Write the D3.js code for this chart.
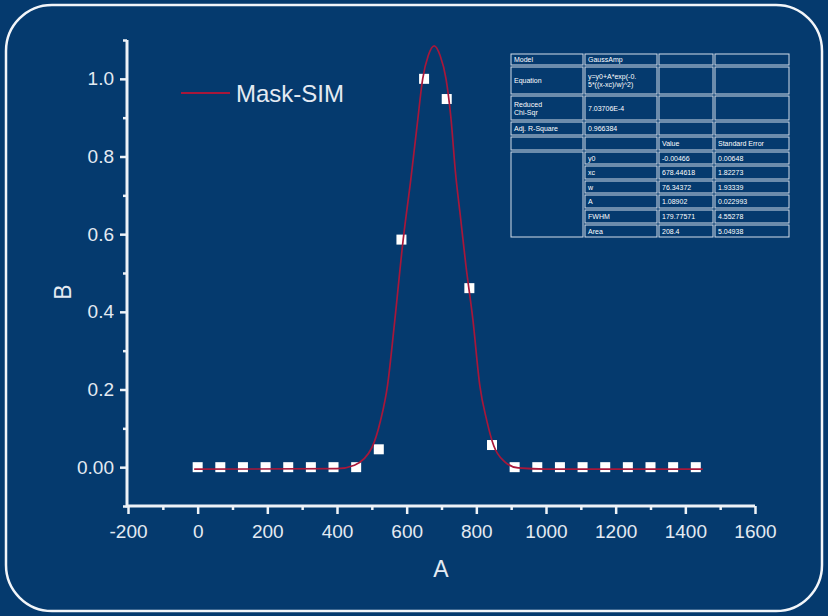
<!DOCTYPE html>
<html>
	<head>
		<meta http-equiv="Content-Type" content="text/html;charset=utf-8"/>
		<title>Mask-SIM Gauss fit</title>
		<script src="https://d3js.org/d3.v7.min.js"></script>
		<style>
			body { margin: 0; background: #053a6e; }
			svg { display: block; }
			.axis path, .axis line { stroke: #eef2f7; }
			.axis text { font-family: "Liberation Sans", Arial, sans-serif; font-size: 19px; fill: #e4eaf2; }
		</style>
	</head>
	<body>
	<svg width="828" height="616"></svg>
	<script>
		// measured points (A, B)
		var ptA = [0, 65, 130, 195, 260, 325, 390, 455, 520, 585, 650, 715, 780, 845, 910, 975, 1040, 1105, 1170, 1235, 1300, 1365, 1430];
		var ptB = [0, 0, 0, 0, 0, 0, 0, 0, 0.046, 0.586, 1.0, 0.948, 0.461, 0.057, 0, 0, 0, 0, 0, 0, 0, 0, 0];

		// fitted curve
		var fitA = [-10, 400, 450, 500, 525, 545, 565, 590, 612, 630, 646, 662, 679, 696, 713, 727, 740, 755, 770, 790, 810, 830, 850, 880, 920, 1000, 1450];
		var fitB = [-0.005, -0.004, 0.005, 0.05, 0.12, 0.21, 0.37, 0.586, 0.742, 0.88, 1.0, 1.06, 1.085, 1.06, 1.0, 0.9, 0.76, 0.64, 0.52, 0.381, 0.21, 0.12, 0.055, 0.015, -0.002, -0.005, -0.005];

		var xTicks = [-200, 0, 200, 400, 600, 800, 1000, 1200, 1400, 1600];
		var xMinor = [-100, 100, 300, 500, 700, 900, 1100, 1300, 1500];
		var yTicks = [0, 0.2, 0.4, 0.6, 0.8, 1.0];
		var yMinor = [-0.1, 0.1, 0.3, 0.5, 0.7, 0.9, 1.1];

		var seriesName = "Mask-SIM";

		// fit report table, row by row
		var tableRows = [
			["Model", "GaussAmp", "", ""],
			["Equation", "y=y0+A*exp(-0.|5*((x-xc)/w)^2)", "", ""],
			["Reduced|Chi-Sqr", "7.03706E-4", "", ""],
			["Adj. R-Square", "0.966384", "", ""],
			["", "", "Value", "Standard Error"],
			["", "y0", "-0.00466", "0.00648"],
			["", "xc", "678.44618", "1.82273"],
			["", "w", "76.34372", "1.93339"],
			["", "A", "1.08902", "0.022993"],
			["", "FWHM", "179.77571", "4.55278"],
			["", "Area", "208.4", "5.04938"]
		];

		var svg = d3.select("svg");
		var txt = "#e4eaf2";

		svg.append("rect")
			.attr("width", 828).attr("height", 616)
			.attr("fill", "#053a6e");

		svg.append("rect")
			.attr("x", 6).attr("y", 5)
			.attr("width", 816).attr("height", 606)
			.attr("rx", 46).attr("ry", 46)
			.attr("fill", "none")
			.attr("stroke", "#f2f5f9")
			.attr("stroke-width", 2.5);

		var xs = d3.scaleLinear().domain([-200, 1600]).range([128, 755]);
		var ys = d3.scaleLinear().domain([-0.1, 1.1]).range([506, 40]);

		// minor ticks first, then the labelled axes
		svg.append("g")
			.attr("class", "axis")
			.attr("transform", "translate(0,506)")
			.call(d3.axisBottom(xs).tickValues(xMinor).tickSize(4).tickFormat(""))
			.call(function(g) { g.select(".domain").remove(); g.selectAll("line").attr("stroke-width", 2.5); });

		svg.append("g")
			.attr("class", "axis")
			.attr("transform", "translate(127,0)")
			.call(d3.axisLeft(ys).tickValues(yMinor).tickSize(4).tickFormat(""))
			.call(function(g) { g.select(".domain").remove(); g.selectAll("line").attr("stroke-width", 2.5); });

		svg.append("g")
			.attr("class", "axis")
			.attr("transform", "translate(0,506)")
			.call(d3.axisBottom(xs).tickValues(xTicks).tickSize(8).tickSizeOuter(0).tickPadding(11)
				.tickFormat(function(d) { return String(d); }))   // plain hyphen, not unicode minus
			.call(function(g) {
				g.select(".domain").attr("stroke-width", 3).attr("d", "M127,0H755");
				g.selectAll("line").attr("stroke-width", 2.5);
			});

		svg.append("g")
			.attr("class", "axis")
			.attr("transform", "translate(127,0)")
			.call(d3.axisLeft(ys).tickValues(yTicks).tickSize(7).tickSizeOuter(0).tickPadding(6)
				.tickFormat(function(d) { return d === 0 ? "0.00" : d.toFixed(1); }))
			.call(function(g) {
				g.select(".domain").attr("stroke-width", 3).attr("d", "M0,40V507.5");
				g.selectAll("line").attr("stroke-width", 2.5);
			});

		// axis titles
		svg.append("text")
			.attr("x", 441).attr("y", 577)
			.attr("text-anchor", "middle")
			.attr("font-family", "Liberation Sans, Arial, sans-serif")
			.attr("font-size", 23).attr("fill", txt)
			.text("A");

		svg.append("text")
			.attr("text-anchor", "middle")
			.attr("transform", "translate(71,292)rotate(-90)")
			.attr("font-family", "Liberation Sans, Arial, sans-serif")
			.attr("font-size", 23).attr("fill", txt)
			.text("B");

		// squares
		var pts = ptA.map(function(a, i) { return {a: a, b: ptB[i]}; });
		svg.append("g")
			.selectAll("rect")
			.data(pts)
			.enter()
			.append("rect")
			.attr("x", function(d) { return xs(d.a) - 5; })
			.attr("y", function(d) { return ys(d.b) - 5; })
			.attr("width", 10).attr("height", 10)
			.attr("fill", "#ffffff");

		// fit line goes over the squares
		var fit = fitA.map(function(a, i) { return [a, fitB[i]]; });
		svg.append("path")
			.datum(fit)
			.attr("fill", "none")
			.attr("stroke", "#a8173a")
			.attr("stroke-width", 1.7)
			.attr("d", d3.line()
				.x(function(d) { return xs(d[0]); })
				.y(function(d) { return ys(d[1]); })
				.curve(d3.curveMonotoneX));

		// legend
		svg.append("line")
			.attr("x1", 181).attr("x2", 230)
			.attr("y1", 93).attr("y2", 93)
			.attr("stroke", "#a8173a").attr("stroke-width", 2);
		svg.append("text")
			.attr("x", 236).attr("y", 102)
			.attr("font-family", "Liberation Sans, Arial, sans-serif")
			.attr("font-size", 24).attr("fill", txt)
			.text(seriesName);

		// table
		var colX = [510, 584, 658, 714, 790];
		var rowY = [53, 66, 95, 121, 136, 151, 165, 180, 194, 209, 224, 238];
		var tbl = svg.append("g")
			.attr("font-family", "Liberation Sans, Arial, sans-serif")
			.attr("font-size", 7)
			.attr("fill", "#ffffff");

		tableRows.forEach(function(row, r) {
			row.forEach(function(cell, c) {
				if (c === 0 && r > 5) return;   // merged block on the left
				var y0 = rowY[r], y1 = rowY[r + 1];
				if (c === 0 && r === 5) y1 = rowY[rowY.length - 1];
				tbl.append("rect")
					.attr("x", colX[c] + 1).attr("y", y0 + 1)
					.attr("width", colX[c + 1] - colX[c] - 2)
					.attr("height", y1 - y0 - 2)
					.attr("fill", "none")
					.attr("stroke", "#d4dde9")
					.attr("stroke-width", 1);
				if (!cell) return;
				var lines = cell.split("|");
				var mid = (y0 + y1) / 2;
				lines.forEach(function(s, k) {
					tbl.append("text")
						.attr("x", colX[c] + 4)
						.attr("y", mid + (k - (lines.length - 1) / 2) * 8 + 2.5)
						.text(s);
				});
			});
		});
		</script>
	</body>
</html>
